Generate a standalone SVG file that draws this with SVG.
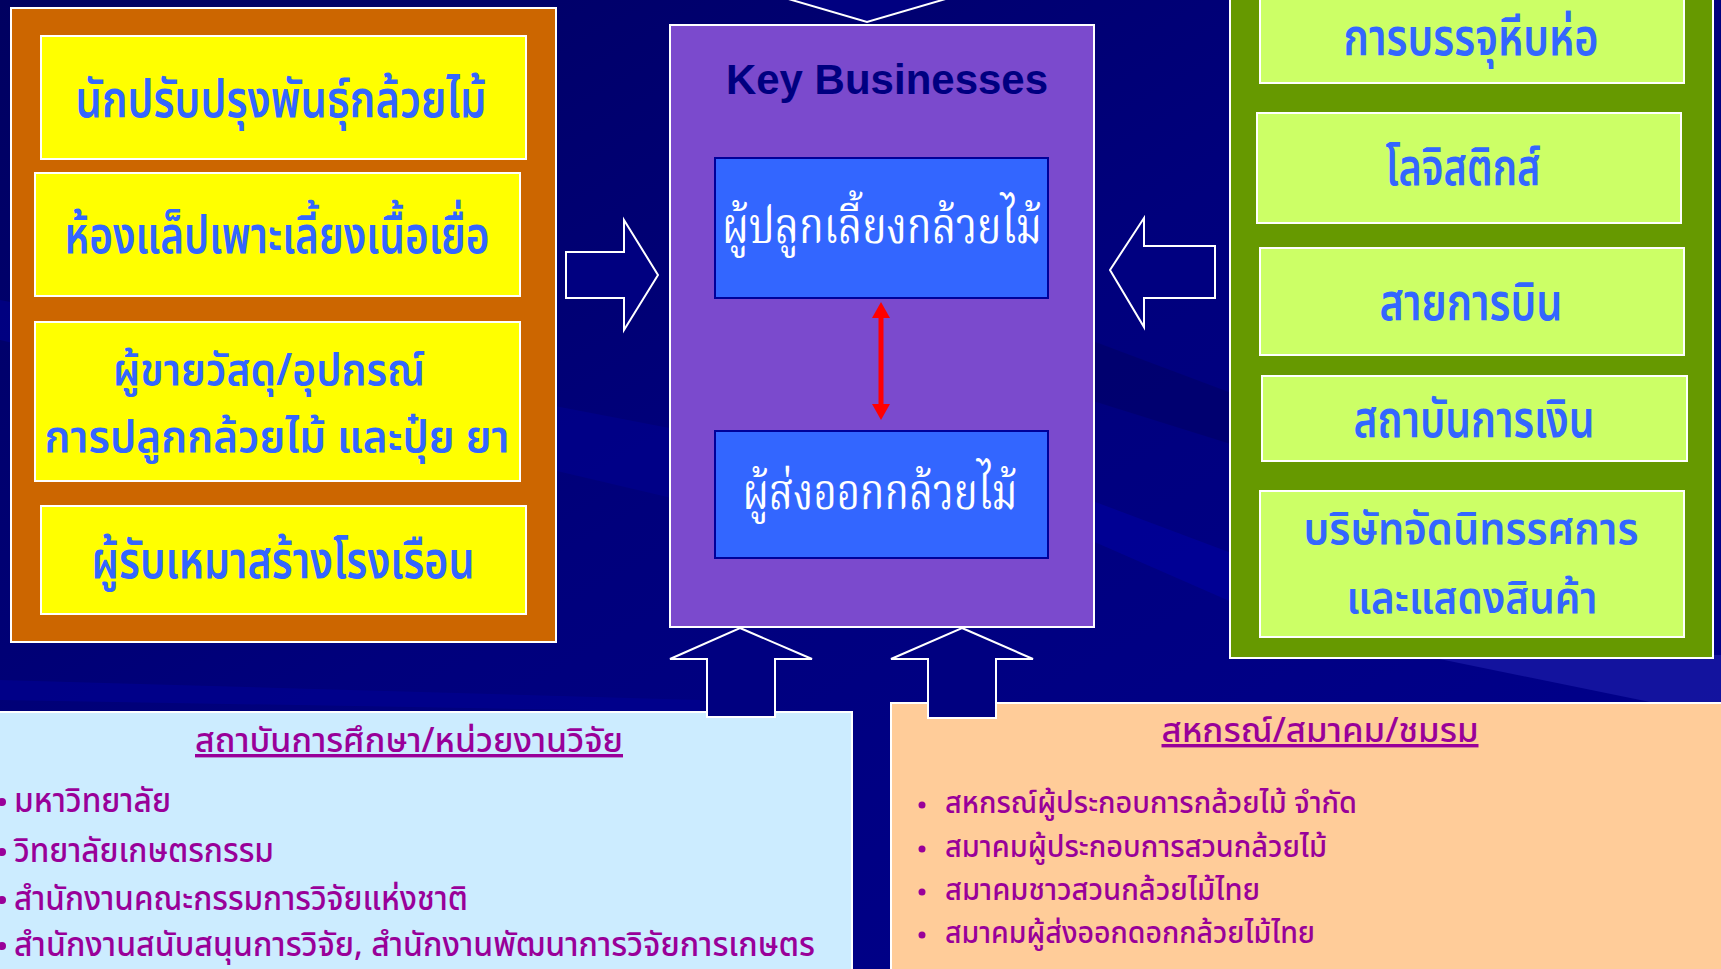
<svg xmlns="http://www.w3.org/2000/svg" width="1721" height="969" viewBox="0 0 1721 969">
<defs>
<linearGradient id="bg" x1="0" y1="0" x2="1" y2="1">
<stop offset="0" stop-color="#000060"/>
<stop offset="0.45" stop-color="#00007C"/>
<stop offset="1" stop-color="#00008E"/>
</linearGradient>
<style>
.th{font-family:"Noto Sans Thai","Noto Sans Thai Looped","Loma","Garuda","Noto Sans",sans-serif;}
.ths{font-family:"Noto Serif Thai","Noto Sans Thai","Liberation Serif",serif;}
.yb{fill:#FFFF00;stroke:#FFFFFF;stroke-width:2;}
.gb{fill:#CCFF66;stroke:#FFFFFF;stroke-width:2;}
.bb{fill:#3366FF;stroke:#000099;stroke-width:2;}
.bt{fill:#3366FF;font-size:52px;font-weight:600;text-anchor:middle;}
.b2{font-size:45px;}
.wt{fill:#FFFFFF;font-size:50px;text-anchor:middle;}
.pt{fill:#990099;font-size:34px;font-weight:500;}
.ps{fill:#990099;font-size:30px;font-weight:500;}
.blk{fill:#000080;stroke:#FFFFFF;stroke-width:2;}
.dot{fill:#990099;}
</style>
</defs>
<rect width="1721" height="969" fill="url(#bg)"/>
<g id="background-streaks">
<polygon points="0,300 680,430 680,500 0,340" fill="#000090" opacity="0.6"/>
<polygon points="0,680 700,700 700,712 0,700" fill="#000090" opacity="0.7"/>
<polygon points="1090,340 1250,400 1250,450 1090,400" fill="#00006A" opacity="0.7"/>
<polygon points="1090,500 1250,560 1250,610 1090,540" fill="#0000A0" opacity="0.6"/>
<polygon points="1420,655 1721,655 1721,720 1650,702" fill="#1818A4" opacity="0.8"/>
</g>

<g id="suppliers">
<rect x="11" y="8" width="545" height="634" fill="#CC6600" stroke="#FFFFFF" stroke-width="2"/>
<g id="s1"><rect class="yb" x="41" y="36" width="485" height="123"/>
<text class="th bt" x="281" y="117" textLength="411" lengthAdjust="spacingAndGlyphs">นักปรับปรุงพันธุ์กล้วยไม้</text></g>
<g id="s2"><rect class="yb" x="35" y="173" width="485" height="123"/>
<text class="th bt" x="277" y="253" textLength="425" lengthAdjust="spacingAndGlyphs">ห้องแล็ปเพาะเลี้ยงเนื้อเยื่อ</text></g>
<g id="s3"><rect class="yb" x="35" y="322" width="485" height="159"/>
<text class="th bt b2" x="269" y="385" textLength="312" lengthAdjust="spacingAndGlyphs">ผู้ขายวัสดุ/อุปกรณ์</text>
<text class="th bt b2" x="277" y="452" textLength="465" lengthAdjust="spacingAndGlyphs">การปลูกกล้วยไม้ และปุ๋ย ยา</text></g>
<g id="s4"><rect class="yb" x="41" y="506" width="485" height="108"/>
<text class="th bt" x="283" y="578" textLength="383" lengthAdjust="spacingAndGlyphs">ผู้รับเหมาสร้างโรงเรือน</text></g>
</g>

<g id="key-businesses">
<rect x="670" y="25" width="424" height="602" fill="#7B4ACD" stroke="#FFFFFF" stroke-width="2"/>
<text x="887" y="94" font-family="Liberation Sans, Arial, sans-serif" font-weight="bold" font-size="42" fill="#000080" text-anchor="middle">Key Businesses</text>
<g id="grower"><rect class="bb" x="715" y="158" width="333" height="140"/>
<text class="ths wt" x="882" y="243" textLength="320" lengthAdjust="spacingAndGlyphs">ผู้ปลูกเลี้ยงกล้วยไม้</text></g>
<g id="exporter"><rect class="bb" x="715" y="431" width="333" height="127"/>
<text class="ths wt" x="880" y="509" textLength="275" lengthAdjust="spacingAndGlyphs">ผู้ส่งออกกล้วยไม้</text></g>
</g>

<g id="services">
<rect x="1230" y="-10" width="483" height="668" fill="#669900" stroke="#FFFFFF" stroke-width="2"/>
<g id="r1"><rect class="gb" x="1260" y="-10" width="424" height="93"/>
<text class="th bt" x="1471" y="55" textLength="255" lengthAdjust="spacingAndGlyphs">การบรรจุหีบห่อ</text></g>
<g id="r2"><rect class="gb" x="1257" y="113" width="424" height="110"/>
<text class="th bt" x="1463" y="185" textLength="155" lengthAdjust="spacingAndGlyphs">โลจิสติกส์</text></g>
<g id="r3"><rect class="gb" x="1260" y="248" width="424" height="107"/>
<text class="th bt" x="1471" y="320" textLength="183" lengthAdjust="spacingAndGlyphs">สายการบิน</text></g>
<g id="r4"><rect class="gb" x="1262" y="376" width="425" height="85"/>
<text class="th bt" x="1474" y="437" textLength="241" lengthAdjust="spacingAndGlyphs">สถาบันการเงิน</text></g>
<g id="r5"><rect class="gb" x="1260" y="491" width="424" height="146"/>
<text class="th bt b2" x="1471" y="544" textLength="335" lengthAdjust="spacingAndGlyphs">บริษัทจัดนิทรรศการ</text>
<text class="th bt b2" x="1472" y="613" textLength="251" lengthAdjust="spacingAndGlyphs">และแสดงสินค้า</text></g>
</g>

<g id="research">
<rect x="-5" y="712" width="857" height="270" fill="#CCECFF" stroke="#FFFFFF" stroke-width="2"/>
<text class="th pt" x="409" y="752" text-anchor="middle" text-decoration="underline" textLength="428" lengthAdjust="spacingAndGlyphs">สถาบันการศึกษา/หน่วยงานวิจัย</text>
<circle class="dot" cx="2" cy="802" r="4"/>
<text class="th pt" x="14" y="812" textLength="157" lengthAdjust="spacingAndGlyphs">มหาวิทยาลัย</text>
<circle class="dot" cx="2" cy="852" r="4"/>
<text class="th pt" x="14" y="862" textLength="260" lengthAdjust="spacingAndGlyphs">วิทยาลัยเกษตรกรรม</text>
<circle class="dot" cx="2" cy="900" r="4"/>
<text class="th pt" x="14" y="910" textLength="454" lengthAdjust="spacingAndGlyphs">สำนักงานคณะกรรมการวิจัยแห่งชาติ</text>
<circle class="dot" cx="2" cy="946" r="4"/>
<text class="th pt" x="14" y="956" textLength="801" lengthAdjust="spacingAndGlyphs">สำนักงานสนับสนุนการวิจัย, สำนักงานพัฒนาการวิจัยการเกษตร</text>
</g>

<g id="associations">
<rect x="891" y="703" width="840" height="280" fill="#FFCC99" stroke="#FFFFFF" stroke-width="2"/>
<text class="th pt" x="1320" y="742" text-anchor="middle" text-decoration="underline" textLength="317" lengthAdjust="spacingAndGlyphs">สหกรณ์/สมาคม/ชมรม</text>
<circle class="dot" cx="922" cy="805" r="3.5"/>
<text class="th ps" x="945" y="813" textLength="412" lengthAdjust="spacingAndGlyphs">สหกรณ์ผู้ประกอบการกล้วยไม้ จำกัด</text>
<circle class="dot" cx="922" cy="849" r="3.5"/>
<text class="th ps" x="945" y="857" textLength="382" lengthAdjust="spacingAndGlyphs">สมาคมผู้ประกอบการสวนกล้วยไม้</text>
<circle class="dot" cx="922" cy="892" r="3.5"/>
<text class="th ps" x="945" y="900" textLength="315" lengthAdjust="spacingAndGlyphs">สมาคมชาวสวนกล้วยไม้ไทย</text>
<circle class="dot" cx="922" cy="935" r="3.5"/>
<text class="th ps" x="945" y="943" textLength="370" lengthAdjust="spacingAndGlyphs">สมาคมผู้ส่งออกดอกกล้วยไม้ไทย</text>
</g>

<g id="connectors">
<polyline points="785,-2 867,22 949,-2" fill="#000080" stroke="#FFFFFF" stroke-width="2"/>
<polygon class="blk" points="566,252 624,252 624,220 658,275 624,330 624,298 566,298"/>
<polygon class="blk" points="1215,246 1144,246 1144,218 1110,270 1144,327 1144,298 1215,298"/>
<polygon class="blk" points="740,628 812,659 775,659 775,717 707,717 707,659 670,659"/>
<polygon class="blk" points="962,628 1033,659 996,659 996,718 928,718 928,659 891,659"/>
<line x1="881" y1="316" x2="881" y2="406" stroke="#FF0000" stroke-width="5"/>
<polygon points="881,302 872,318 890,318" fill="#FF0000"/>
<polygon points="881,420 872,404 890,404" fill="#FF0000"/>
</g>
</svg>
